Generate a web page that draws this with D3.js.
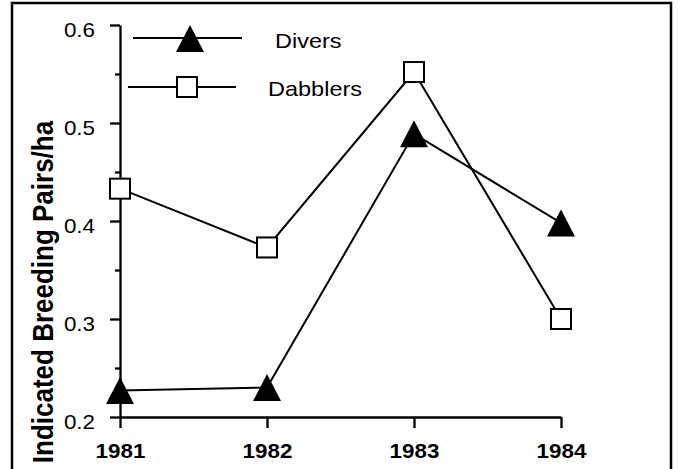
<!DOCTYPE html>
<html>
<head>
<meta charset="utf-8">
<script src="https://cdn.jsdelivr.net/npm/d3@7"></script>
<style>
  body { margin: 0; background: #fff; }
  text { font-family: "Liberation Sans", Arial, sans-serif; fill: #000; }
</style>
</head>
<body>
<div id="chart"></div>
<script>
var width = 678, height = 469;

// data
var years = [1981, 1982, 1983, 1984];
var divers = [0.227, 0.230, 0.489, 0.398];
var dabblers = [0.433, 0.373, 0.552, 0.300];
var yTicks = [0.2, 0.3, 0.4, 0.5, 0.6];
var yMinor = [0.25, 0.35, 0.45, 0.55];
var seriesNames = ['Divers', 'Dabblers'];

var sx = 1.12; // glyphs in the original look a bit wide

var svg = d3.select('#chart').append('svg')
  .attr('width', width).attr('height', height);

// outer frame
svg.append('rect')
  .attr('x', 12).attr('y', 3)
  .attr('width', 659).attr('height', 470)
  .attr('fill', 'none').attr('stroke', '#000').attr('stroke-width', 2.5);

var x = d3.scaleLinear().domain([1981, 1984]).range([120, 561]);
var y = d3.scaleLinear().domain([0.2, 0.6]).range([417, 25]);

// minor y ticks
svg.append('g')
  .attr('transform', 'translate(120,0)')
  .call(d3.axisLeft(y).tickValues(yMinor).tickSize(5).tickSizeOuter(0).tickFormat(''))
  .call(function(g){ g.select('.domain').remove(); })
  .selectAll('line').attr('stroke-width', 2.3);

var yAxis = svg.append('g')
  .attr('transform', 'translate(120,0)')
  .call(d3.axisLeft(y).tickValues(yTicks).tickSize(10).tickSizeOuter(0).tickFormat(d3.format('.1f')));
yAxis.selectAll('line, path').attr('stroke-width', 2.3);
yAxis.selectAll('text')
  .attr('x', null).attr('dy', null)
  .attr('transform', 'translate(-25,11) scale(' + sx + ',1)')
  .attr('text-anchor', 'end')
  .style('font-size', '20px');

var xAxis = svg.append('g')
  .attr('transform', 'translate(0,417)')
  .call(d3.axisBottom(x).tickValues(years).tickSize(11).tickSizeOuter(0).tickFormat(d3.format('d')));
xAxis.selectAll('line, path').attr('stroke-width', 2.3);
xAxis.selectAll('text')
  .attr('y', null).attr('dy', null)
  .attr('transform', 'translate(0,41) scale(' + sx + ',1)')
  .style('font-size', '20px')
  .style('font-weight', 'bold');

// y title
svg.append('text')
  .attr('transform', 'translate(53,292) scale(' + sx + ',1) rotate(-90)')
  .attr('text-anchor', 'middle')
  .style('font-size', '26px')
  .style('font-weight', 'bold')
  .text('Indicated Breeding Pairs/ha');

var tri = 'M0,-13.5L14,13.5L-14,13.5Z';
var line = d3.line()
  .x(function(d, i){ return x(years[i]); })
  .y(function(d){ return y(d); });

svg.append('path').datum(divers)
  .attr('d', line).attr('fill', 'none').attr('stroke', '#000').attr('stroke-width', 2);
svg.append('path').datum(dabblers)
  .attr('d', line).attr('fill', 'none').attr('stroke', '#000').attr('stroke-width', 2);

svg.selectAll('.tri').data(divers).enter().append('path')
  .attr('class', 'tri')
  .attr('d', tri)
  .attr('transform', function(d, i){ return 'translate(' + x(years[i]) + ',' + y(d) + ')'; })
  .attr('fill', '#000');

svg.selectAll('.sq').data(dabblers).enter().append('rect')
  .attr('class', 'sq')
  .attr('x', function(d, i){ return x(years[i]) - 10; })
  .attr('y', function(d){ return y(d) - 10; })
  .attr('width', 20).attr('height', 20)
  .attr('fill', '#fff').attr('stroke', '#000').attr('stroke-width', 2);

// legend
var leg = svg.append('g');
leg.append('line').attr('x1', 133).attr('x2', 242).attr('y1', 38).attr('y2', 38)
  .attr('stroke', '#000').attr('stroke-width', 2);
leg.append('path').attr('d', tri).attr('transform', 'translate(190,38.5)').attr('fill', '#000');
leg.append('text').attr('transform', 'translate(275,48) scale(' + sx + ',1)')
  .style('font-size', '21px').text(seriesNames[0]);

leg.append('line').attr('x1', 128).attr('x2', 236).attr('y1', 87).attr('y2', 87)
  .attr('stroke', '#000').attr('stroke-width', 2);
leg.append('rect').attr('x', 177).attr('y', 77).attr('width', 20).attr('height', 20)
  .attr('fill', '#fff').attr('stroke', '#000').attr('stroke-width', 2);
leg.append('text').attr('transform', 'translate(268,96) scale(' + sx + ',1)')
  .style('font-size', '21px').text(seriesNames[1]);
</script>
</body>
</html>
